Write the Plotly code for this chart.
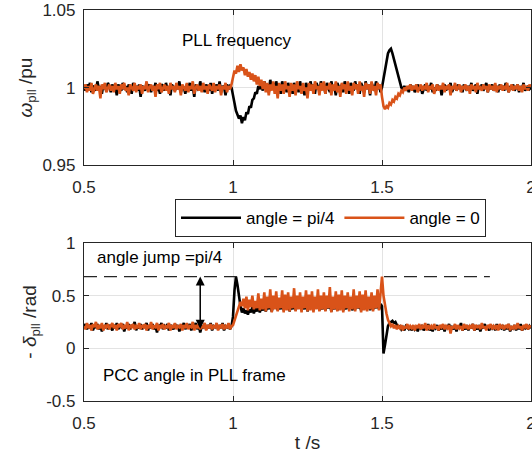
import numpy as np
import plotly.graph_objects as go

T_START, T_END = 0.5, 2.0

# PLL frequency (pu), angle jump = pi/4
w_pi4 = [
    1.001, 0.998, 1.002, 0.999, 1.003, 0.997, 1.001, 1.000, 0.998, 1.004, 0.999, 1.001, 0.996, 1.002, 1.000, 0.998, 1.003, 1.001, 0.997, 1.002,
    0.999, 1.001, 0.995, 1.002, 1.000, 0.998, 1.003, 0.999, 1.001, 0.997, 1.002, 1.000, 0.996, 1.003, 0.999, 1.001, 0.998, 1.002, 0.994, 1.001,
    1.000, 0.998, 1.003, 0.999, 1.002, 0.997, 1.001, 0.999, 1.003, 0.998, 1.000, 0.996, 1.002, 1.001, 0.998, 1.003, 0.999, 1.001, 0.995, 1.002,
    1.000, 0.998, 1.002, 0.999, 1.004, 0.997, 1.001, 1.000, 0.996, 1.002, 0.999, 1.003, 0.998, 1.001, 0.994, 1.002, 1.000, 0.998, 1.004, 0.999,
    1.001, 0.997, 1.002, 1.000, 0.998, 1.003, 0.996, 1.001, 0.999, 1.002, 0.998, 1.004, 0.997, 1.001, 1.000, 0.995, 1.002, 0.999, 1.001, 1.000,
    0.996, 0.990, 0.985, 0.983, 0.980, 0.982, 0.977, 0.981, 0.979, 0.984, 0.983, 0.988, 0.987, 0.992, 0.993, 0.997, 0.996, 1.001, 0.999, 1.003,
    0.998, 1.004, 1.000, 1.002, 0.997, 1.005, 1.000, 1.003, 0.998, 1.004, 0.999, 1.002, 0.996, 1.004, 1.000, 1.002, 0.997, 1.003, 0.999, 1.001,
    0.996, 1.003, 1.000, 1.002, 0.997, 1.004, 0.999, 1.001, 0.995, 1.003, 1.000, 0.998, 1.004, 0.999, 1.002, 0.996, 1.003, 1.000, 0.998, 1.004,
    0.999, 1.002, 0.996, 1.003, 1.000, 0.997, 1.004, 0.999, 1.001, 0.995, 1.003, 1.000, 0.998, 1.002, 0.997, 1.004, 0.999, 1.001, 0.996, 1.003,
    1.000, 0.998, 1.004, 0.999, 1.002, 0.996, 1.003, 1.000, 0.997, 1.004, 0.999, 1.002, 0.995, 1.003, 1.000, 0.998, 1.004, 0.999, 1.002, 0.997,
    1.000, 1.006, 1.012, 1.018, 1.022, 1.024, 1.025, 1.022, 1.018, 1.014, 1.010, 1.006, 1.003, 1.000, 0.999, 1.001, 0.998, 1.000, 0.997, 1.002,
    0.999, 1.001, 0.997, 1.000, 1.002, 0.998, 1.001, 0.996, 1.000, 1.002, 0.998, 1.001, 0.999, 1.003, 0.997, 1.000, 0.998, 1.002, 0.999, 1.001,
    0.995, 1.000, 1.002, 0.998, 1.001, 0.999, 1.003, 0.997, 1.000, 1.001, 0.998, 1.002, 0.999, 1.001, 0.997, 1.002, 1.000, 0.998, 1.001, 0.999,
    1.003, 0.998, 1.000, 1.002, 0.996, 1.001, 0.999, 1.002, 0.998, 1.000, 1.003, 0.997, 1.001, 0.999, 1.002, 0.998, 1.000, 1.001, 0.997, 1.002,
    0.999, 1.001, 0.998, 1.003, 1.000, 0.997, 1.001, 0.999, 1.002, 0.998, 1.000, 1.002, 0.997, 1.001, 0.999, 1.003, 0.998, 1.000, 1.001, 0.999, 1.000,
]

# PLL frequency (pu), angle jump = 0
w_0 = [
    0.999, 1.002, 0.997, 1.001, 0.998, 1.003, 0.996, 1.000, 1.002, 0.998, 1.001, 0.993, 1.002, 0.999, 1.003, 0.997, 1.000, 1.002, 0.998, 1.001,
    0.997, 1.003, 0.999, 1.001, 0.996, 1.002, 0.999, 1.003, 0.998, 1.000, 0.995, 1.002, 1.000, 0.998, 1.003, 0.997, 1.001, 0.999, 1.002, 0.996,
    1.001, 0.999, 1.004, 0.997, 1.000, 1.002, 0.998, 1.001, 0.994, 1.002, 0.999, 1.003, 0.997, 1.000, 1.002, 0.998, 1.001, 0.996, 1.003, 0.999,
    1.001, 0.997, 1.003, 0.999, 1.001, 0.995, 1.002, 1.000, 0.998, 1.003, 0.997, 1.001, 0.999, 1.004, 0.996, 1.000, 1.002, 0.998, 1.001, 0.997,
    1.003, 0.999, 1.001, 0.996, 1.002, 1.000, 0.998, 1.003, 0.997, 1.001, 0.999, 1.002, 0.995, 1.001, 0.999, 1.003, 0.997, 1.001, 0.999, 1.002,
    1.006, 1.011, 1.009, 1.014, 1.010, 1.015, 1.011, 1.013, 1.008, 1.012, 1.007, 1.010, 1.005, 1.009, 1.004, 1.008, 1.002, 1.007, 1.001, 1.005,
    0.999, 1.004, 0.997, 1.003, 0.995, 1.002, 0.998, 1.004, 0.996, 1.001, 0.993, 1.003, 0.998, 1.002, 0.996, 1.004, 0.999, 1.001, 0.994, 1.003,
    0.998, 1.002, 0.995, 1.004, 0.999, 1.001, 0.996, 1.003, 0.998, 1.000, 0.993, 1.003, 0.998, 1.002, 0.996, 1.004, 0.999, 1.001, 0.995, 1.003,
    0.998, 1.004, 0.996, 1.001, 0.999, 1.003, 0.995, 1.002, 0.998, 1.004, 0.997, 1.001, 0.994, 1.003, 0.999, 1.002, 0.996, 1.004, 0.998, 1.001,
    0.995, 1.003, 0.999, 1.002, 0.996, 1.004, 0.998, 1.001, 0.994, 1.003, 0.999, 1.002, 0.996, 1.004, 0.998, 1.001, 0.995, 1.003, 0.999, 1.002,
    0.994, 0.988, 0.986, 0.988, 0.987, 0.990, 0.989, 0.992, 0.991, 0.994, 0.993, 0.996, 0.995, 0.998, 0.997, 1.000, 0.998, 1.001, 0.999, 1.002,
    0.998, 1.001, 0.999, 1.002, 0.997, 1.000, 1.002, 0.998, 1.001, 0.999, 1.003, 0.997, 1.001, 0.999, 1.002, 0.996, 1.000, 1.002, 0.998, 1.001,
    0.999, 1.003, 0.997, 1.001, 0.999, 1.002, 0.995, 1.001, 0.999, 1.003, 0.998, 1.000, 1.002, 0.997, 1.001, 0.999, 1.002, 0.998, 1.001, 0.996,
    1.002, 0.999, 1.001, 0.997, 1.003, 0.999, 1.000, 0.998, 1.002, 0.999, 1.001, 0.997, 1.002, 0.999, 1.001, 0.998, 1.003, 0.997, 1.001, 0.999,
    1.002, 0.998, 1.001, 0.999, 1.003, 0.997, 1.000, 1.002, 0.998, 1.001, 0.999, 1.002, 0.998, 1.001, 0.997, 1.002, 0.999, 1.001, 0.998, 1.002, 1.000,
]

# PCC angle in PLL frame (rad), angle jump = pi/4
a_pi4 = [
    0.20, 0.23, 0.18, 0.22, 0.19, 0.24, 0.17, 0.21, 0.20, 0.23, 0.18, 0.22, 0.16, 0.21, 0.19, 0.24, 0.18, 0.22, 0.20, 0.17,
    0.22, 0.19, 0.24, 0.18, 0.21, 0.20, 0.23, 0.16, 0.21, 0.19, 0.23, 0.18, 0.22, 0.20, 0.25, 0.17, 0.21, 0.19, 0.23, 0.18,
    0.21, 0.20, 0.24, 0.17, 0.22, 0.19, 0.23, 0.18, 0.21, 0.15, 0.22, 0.20, 0.24, 0.18, 0.21, 0.19, 0.23, 0.17, 0.22, 0.20,
    0.18, 0.23, 0.19, 0.22, 0.16, 0.21, 0.20, 0.24, 0.18, 0.22, 0.19, 0.23, 0.17, 0.21, 0.20, 0.24, 0.18, 0.22, 0.15, 0.21,
    0.20, 0.23, 0.18, 0.22, 0.19, 0.24, 0.17, 0.21, 0.20, 0.23, 0.18, 0.22, 0.19, 0.24, 0.17, 0.21, 0.20, 0.23, 0.18, 0.21,
    0.30, 0.55, 0.68, 0.60, 0.47, 0.40, 0.34, 0.38, 0.33, 0.36, 0.32, 0.37, 0.34, 0.39, 0.33, 0.38, 0.35, 0.40, 0.34, 0.39,
    0.36, 0.42, 0.35, 0.40, 0.37, 0.43, 0.35, 0.41, 0.38, 0.44, 0.36, 0.42, 0.37, 0.43, 0.36, 0.41, 0.38, 0.44, 0.35, 0.42,
    0.37, 0.43, 0.36, 0.41, 0.38, 0.45, 0.36, 0.42, 0.37, 0.44, 0.35, 0.41, 0.38, 0.43, 0.36, 0.42, 0.38, 0.45, 0.36, 0.41,
    0.37, 0.44, 0.36, 0.42, 0.38, 0.43, 0.35, 0.41, 0.37, 0.44, 0.36, 0.42, 0.38, 0.45, 0.36, 0.41, 0.37, 0.43, 0.38, 0.44,
    0.36, 0.42, 0.37, 0.45, 0.38, 0.41, 0.36, 0.44, 0.37, 0.42, 0.38, 0.45, 0.36, 0.43, 0.37, 0.41, 0.38, 0.44, 0.37, 0.42,
    0.40, -0.05, 0.03, 0.15, 0.21, 0.24, 0.25, 0.26, 0.24, 0.25, 0.22, 0.20, 0.21, 0.18, 0.20, 0.17, 0.21, 0.19, 0.18, 0.20,
    0.17, 0.21, 0.18, 0.20, 0.16, 0.21, 0.19, 0.22, 0.17, 0.20, 0.18, 0.23, 0.17, 0.20, 0.16, 0.21, 0.19, 0.22, 0.17, 0.20,
    0.18, 0.22, 0.16, 0.21, 0.19, 0.23, 0.17, 0.20, 0.18, 0.22, 0.16, 0.21, 0.19, 0.24, 0.17, 0.20, 0.18, 0.22, 0.17, 0.21,
    0.19, 0.23, 0.17, 0.20, 0.18, 0.22, 0.16, 0.21, 0.19, 0.23, 0.18, 0.20, 0.17, 0.22, 0.19, 0.21, 0.17, 0.23, 0.18, 0.20,
    0.19, 0.22, 0.17, 0.21, 0.18, 0.23, 0.16, 0.20, 0.19, 0.22, 0.17, 0.21, 0.18, 0.23, 0.17, 0.20, 0.19, 0.22, 0.18, 0.21, 0.19,
]

# PCC angle in PLL frame (rad), angle jump = 0
a_0 = [
    0.21, 0.18, 0.24, 0.19, 0.22, 0.17, 0.23, 0.20, 0.25, 0.18, 0.21, 0.19, 0.24, 0.17, 0.22, 0.20, 0.23, 0.18, 0.21, 0.24,
    0.19, 0.22, 0.17, 0.23, 0.20, 0.24, 0.18, 0.21, 0.19, 0.25, 0.17, 0.22, 0.20, 0.23, 0.18, 0.21, 0.19, 0.24, 0.18, 0.22,
    0.20, 0.23, 0.17, 0.22, 0.19, 0.25, 0.18, 0.21, 0.20, 0.24, 0.17, 0.22, 0.19, 0.23, 0.18, 0.21, 0.20, 0.24, 0.17, 0.22,
    0.19, 0.24, 0.18, 0.21, 0.20, 0.23, 0.17, 0.22, 0.19, 0.24, 0.18, 0.21, 0.20, 0.25, 0.17, 0.22, 0.19, 0.23, 0.18, 0.21,
    0.20, 0.24, 0.17, 0.22, 0.19, 0.23, 0.18, 0.21, 0.20, 0.24, 0.17, 0.22, 0.19, 0.23, 0.18, 0.21, 0.19, 0.24, 0.18, 0.21,
    0.22, 0.26, 0.30, 0.35, 0.39, 0.44, 0.40, 0.47, 0.38, 0.49, 0.36, 0.46, 0.39, 0.50, 0.37, 0.45, 0.38, 0.52, 0.36, 0.47,
    0.37, 0.53, 0.35, 0.49, 0.38, 0.56, 0.34, 0.50, 0.37, 0.54, 0.35, 0.48, 0.38, 0.55, 0.34, 0.51, 0.36, 0.53, 0.35, 0.49,
    0.38, 0.57, 0.35, 0.50, 0.37, 0.53, 0.34, 0.49, 0.38, 0.55, 0.35, 0.51, 0.36, 0.54, 0.34, 0.49, 0.37, 0.56, 0.35, 0.50,
    0.37, 0.53, 0.35, 0.50, 0.38, 0.58, 0.34, 0.49, 0.37, 0.54, 0.35, 0.51, 0.36, 0.55, 0.34, 0.50, 0.38, 0.53, 0.35, 0.49,
    0.37, 0.56, 0.35, 0.50, 0.38, 0.54, 0.34, 0.51, 0.36, 0.55, 0.35, 0.49, 0.37, 0.53, 0.35, 0.50, 0.38, 0.56, 0.36, 0.51,
    0.68, 0.50, 0.40, 0.33, 0.27, 0.24, 0.21, 0.23, 0.19, 0.22, 0.18, 0.21, 0.19, 0.22, 0.17, 0.21, 0.19, 0.23, 0.18, 0.21,
    0.19, 0.22, 0.17, 0.21, 0.20, 0.23, 0.18, 0.21, 0.19, 0.24, 0.17, 0.22, 0.19, 0.21, 0.18, 0.23, 0.19, 0.21, 0.17, 0.22,
    0.20, 0.23, 0.18, 0.21, 0.19, 0.22, 0.14, 0.21, 0.19, 0.23, 0.18, 0.22, 0.19, 0.21, 0.17, 0.23, 0.19, 0.22, 0.18, 0.21,
    0.19, 0.23, 0.17, 0.22, 0.20, 0.21, 0.18, 0.24, 0.19, 0.21, 0.17, 0.22, 0.20, 0.23, 0.18, 0.21, 0.19, 0.22, 0.17, 0.23,
    0.19, 0.21, 0.18, 0.22, 0.20, 0.23, 0.17, 0.21, 0.19, 0.22, 0.18, 0.24, 0.19, 0.21, 0.17, 0.22, 0.20, 0.23, 0.18, 0.21, 0.20,
]

x_ticks = [0.5, 1, 1.5, 2]
x_ticktext = ["0.5", "1", "1.5", "2"]
w_ticks = [0.95, 1, 1.05]
w_ticktext = ["0.95", "1", "1.05"]
a_ticks = [-0.5, 0, 0.5, 1]
a_ticktext = ["-0.5", "0", "0.5", "1"]

jump_level = 0.68
jump_base = 0.17
jump_t = 0.89
dash_end_t = 1.862

BLACK = "#000000"
ORANGE = "#D95319"
AX = "#262626"
FONT = "Liberation Sans, Arial, sans-serif"
LW = 2.6


def tvec(s):
    return np.linspace(T_START, T_END, len(s))


fig = go.Figure()
fig.add_trace(go.Scatter(x=tvec(w_pi4), y=w_pi4, mode="lines", name="angle = pi/4",
                         line=dict(color=BLACK, width=LW), xaxis="x", yaxis="y"))
fig.add_trace(go.Scatter(x=tvec(w_0), y=w_0, mode="lines", name="angle = 0",
                         line=dict(color=ORANGE, width=LW), xaxis="x", yaxis="y"))
fig.add_trace(go.Scatter(x=tvec(a_pi4), y=a_pi4, mode="lines", showlegend=False,
                         line=dict(color=BLACK, width=LW), xaxis="x2", yaxis="y2"))
fig.add_trace(go.Scatter(x=tvec(a_0), y=a_0, mode="lines", showlegend=False,
                         line=dict(color=ORANGE, width=LW), xaxis="x2", yaxis="y2"))

axis_common = dict(showline=True, linecolor=AX, linewidth=1.2, mirror="ticks",
                   ticks="inside", ticklen=5, tickwidth=1.2, tickcolor=AX,
                   showgrid=True, gridcolor="#e3e3e3", gridwidth=1, zeroline=False,
                   ticklabeloverflow="allow", automargin=False,
                   tickfont=dict(family=FONT, size=17, color=AX))

title_font = dict(family=FONT, size=19, color=AX)

fig.update_layout(
    width=532, height=460,
    margin=dict(l=84, r=1, t=10, b=59),
    paper_bgcolor="white", plot_bgcolor="white",
    font=dict(family=FONT, size=17, color=AX),
    xaxis=dict(domain=[0, 1], anchor="y", range=[0.5, 2], tickvals=x_ticks, ticktext=x_ticktext,
               ticklabelstandoff=6, **axis_common),
    yaxis=dict(domain=[0.6033, 1], anchor="x", range=[0.95, 1.05], tickvals=w_ticks, ticktext=w_ticktext,
               ticklabelstandoff=4,
               title=dict(text="<i>ω</i><sub>pll</sub> /pu", font=title_font, standoff=4),
               **axis_common),
    xaxis2=dict(domain=[0, 1], anchor="y2", range=[0.5, 2], tickvals=x_ticks, ticktext=x_ticktext,
                ticklabelstandoff=6,
                title=dict(text="t /s", font=title_font, standoff=4),
                **axis_common),
    yaxis2=dict(domain=[0, 0.4044], anchor="x2", range=[-0.5, 1], tickvals=a_ticks, ticktext=a_ticktext,
                ticklabelstandoff=4,
                title=dict(text="- <i>δ</i><sub>pll</sub> /rad", font=title_font, standoff=4),
                **axis_common),
    legend=dict(orientation="h", x=0.2036, y=0.5163, xanchor="left", yanchor="top",
                bordercolor=AX, borderwidth=1, bgcolor="white", itemwidth=60,
                font=dict(family=FONT, size=17, color=BLACK)),
    showlegend=True,
)

fig.add_shape(type="line", xref="x2", yref="y2", x0=T_START, x1=dash_end_t, y0=jump_level, y1=jump_level,
              line=dict(color=AX, width=1.3, dash="13px,7px"))

fig.add_annotation(xref="x2", yref="y2", x=jump_t, y=jump_level, ax=jump_t, ay=jump_base,
                   axref="x2", ayref="y2", text="", showarrow=True, arrowhead=2, startarrowhead=2,
                   arrowside="end+start", arrowwidth=1.5, arrowsize=1.2, arrowcolor=BLACK,
                   standoff=0, startstandoff=0)

fig.add_annotation(xref="x", yref="y", x=1.011, y=1.0306, text="PLL frequency", showarrow=False,
                   font=dict(family=FONT, size=17, color=BLACK))
fig.add_annotation(xref="x2", yref="y2", x=0.753, y=0.864, text="angle jump =pi/4", showarrow=False,
                   font=dict(family=FONT, size=17, color=BLACK))
fig.add_annotation(xref="x2", yref="y2", x=0.870, y=-0.257, text="PCC angle in PLL frame", showarrow=False,
                   font=dict(family=FONT, size=17, color=BLACK))

fig.write_html("out.html")
